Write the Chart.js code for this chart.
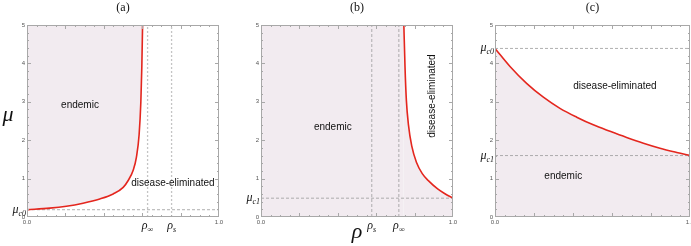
<!DOCTYPE html>
<html>
<head>
<meta charset="utf-8">
<script src="https://cdn.jsdelivr.net/npm/chart.js@4.4.1/dist/chart.umd.min.js"></script>
<style>
  html, body { margin: 0; padding: 0; background: #fff; }
  body { width: 691px; height: 246px; position: relative; overflow: hidden; }
  .panel { position: absolute; top: 0; height: 246px; }
</style>
</head>
<body>
<div class="panel" style="left:0;width:230px"><canvas id="chart-a"></canvas></div>
<div class="panel" style="left:230px;width:230px"><canvas id="chart-b"></canvas></div>
<div class="panel" style="left:460px;width:231px"><canvas id="chart-c"></canvas></div>
<script>
// panel (a): boundary curve, endemic region is left of / above it
const rhoA = [0, 0.118, 0.205, 0.292, 0.379, 0.449, 0.501, 0.527, 0.553, 0.570, 0.584, 0.593, 0.598, 0.602];
const muA  = [0.19, 0.23, 0.28, 0.36, 0.47, 0.60, 0.77, 0.95, 1.22, 1.56, 2.15, 3.0, 3.9, 5.0];
const muC0A = 0.19;
const rhoInfA = 0.628;
const rhoSA = 0.753;

// panel (b): boundary curve, endemic region is left of / below it
const rhoB = [0.744, 0.750, 0.757, 0.768, 0.785, 0.81, 0.84, 0.873, 0.92, 0.96, 1.0];
const muB  = [5.0, 3.92, 3.05, 2.40, 1.85, 1.42, 1.13, 0.94, 0.73, 0.60, 0.49];
const muC1B = 0.49;
const rhoSB = 0.577;
const rhoInfB = 0.718;

// panel (c): boundary curve, endemic region is below it
const rhoC = [0, 0.077, 0.162, 0.248, 0.333, 0.419, 0.504, 0.590, 0.675, 0.761, 0.846, 0.932, 1.0];
const muC  = [4.39, 3.92, 3.48, 3.12, 2.83, 2.60, 2.40, 2.23, 2.07, 1.92, 1.79, 1.68, 1.60];
const muC0C = 4.39;
const muC1C = 1.60;

const yTicks = [0, 1, 2, 3, 4, 5];
const xTickLabels = ['0.0', '1.0'];

const RED = 'rgb(228, 38, 30)';
const FILL = 'rgb(242, 235, 240)';
const DASH = '#9a9a9a';

function pts(xs, ys) {
    return xs.map((x, i) => ({x: x, y: ys[i]}));
}

function curve(data, fill) {
    return {
        data: data, borderColor: RED, borderWidth: 1.6, pointRadius: 0,
        cubicInterpolationMode: 'monotone', fill: fill, backgroundColor: FILL
    };
}

function vline(x, light) {
    return {data: [{x: x, y: 0}, {x: x, y: 5}], pointRadius: 0, fill: false,
        borderColor: light ? '#c4c4c4' : DASH, borderWidth: light ? 1.3 : 0.8,
        borderDash: light ? [2, 2] : [3, 2]};
}

function hline(y) {
    return {data: [{x: 0, y: y}, {x: 1, y: y}], borderColor: DASH, borderWidth: 0.8,
        borderDash: [3, 2], pointRadius: 0, fill: false};
}

// symbol with subscript, e.g. rho_inf, mu_c0
function drawSub(ctx, main, sub, x, y, align, size) {
    const mainFont = 'italic ' + size + 'px "Liberation Serif"';
    const subFont = 'italic ' + Math.round(size * 0.65) + 'px "Liberation Serif"';
    ctx.font = mainFont;
    const w1 = ctx.measureText(main).width;
    ctx.font = subFont;
    const w2 = ctx.measureText(sub).width;
    let x0 = x;
    if (align === 'right') x0 = x - w1 - w2;
    if (align === 'center') x0 = x - (w1 + w2) / 2;
    ctx.textAlign = 'left';
    ctx.textBaseline = 'alphabetic';
    ctx.font = mainFont;
    ctx.fillText(main, x0, y);
    ctx.font = subFont;
    ctx.fillText(sub, x0 + w1, y + size * 0.25);
}

const decor = {
    id: 'decor',
    afterDraw(chart, args, opts) {
        const {ctx, chartArea: a, scales: {x, y}} = chart;
        ctx.save();

        // frame with inward ticks
        ctx.strokeStyle = '#a8a8a8';
        ctx.lineWidth = 1;
        ctx.strokeRect(a.left + 0.5, a.top + 0.5, a.width - 1, a.height - 1);
        ctx.beginPath();
        for (let i = 1; i < 20; i++) {
            const px = Math.round(x.getPixelForValue(i / 20)) + 0.5;
            const len = i % 4 === 0 ? 4 : 2;
            ctx.moveTo(px, a.bottom); ctx.lineTo(px, a.bottom - len);
            ctx.moveTo(px, a.top); ctx.lineTo(px, a.top + len);
        }
        for (let i = 1; i < 25; i++) {
            const py = Math.round(y.getPixelForValue(i / 5)) + 0.5;
            const len = i % 5 === 0 ? 4 : 2;
            ctx.moveTo(a.left, py); ctx.lineTo(a.left + len, py);
            ctx.moveTo(a.right, py); ctx.lineTo(a.right - len, py);
        }
        ctx.stroke();

        ctx.fillStyle = '#111';
        // panel title
        ctx.font = '12px "Liberation Serif"';
        ctx.textAlign = 'center';
        ctx.textBaseline = 'middle';
        ctx.fillText(opts.title, (a.left + a.right) / 2, 8);

        // region labels
        ctx.font = '10px "Liberation Sans"';
        opts.regions.forEach(r => {
            const px = x.getPixelForValue(r.x);
            const py = y.getPixelForValue(r.y);
            ctx.save();
            ctx.translate(px, py);
            if (r.rotate) ctx.rotate(-Math.PI / 2);
            ctx.textAlign = 'center';
            ctx.textBaseline = 'middle';
            ctx.fillText(r.text, 0, 0);
            ctx.restore();
        });

        // special tick labels
        opts.xMarks.forEach(m => {
            drawSub(ctx, m.main, m.sub, x.getPixelForValue(m.value), a.bottom + 12, 'center', 12);
        });
        opts.yMarks.forEach(m => {
            drawSub(ctx, m.main, m.sub, a.left - 1, y.getPixelForValue(m.value) + 3, 'right', 12);
        });

        // axis symbols
        ctx.font = 'italic 22px "Liberation Serif"';
        ctx.textAlign = 'center';
        ctx.textBaseline = 'middle';
        if (opts.yTitle) ctx.fillText(opts.yTitle, 8, (a.top + a.bottom) / 2 - 6);
        if (opts.xTitle) ctx.fillText(opts.xTitle, (a.left + a.right) / 2, 232);
        ctx.restore();
    }
};

function makePanel(id, datasets, yWidth, padRight, decorOpts) {
    return new Chart(document.getElementById(id), {
        type: 'line',
        data: {datasets: datasets},
        options: {
            responsive: true,
            maintainAspectRatio: false,
            animation: false,
            layout: {padding: {left: 0, right: padRight, top: 25, bottom: 0}},
            plugins: {
                legend: {display: false},
                tooltip: {enabled: false},
                filler: {drawTime: 'beforeDatasetsDraw'},
                decor: decorOpts
            },
            scales: {
                x: {
                    type: 'linear', min: 0, max: 1,
                    grid: {display: false, drawTicks: false},
                    border: {display: false},
                    afterBuildTicks: s => { s.ticks = [{value: 0}, {value: 1}]; },
                    ticks: {
                        maxRotation: 0, padding: 2, color: '#555',
                        font: {size: 6, family: 'Liberation Sans'},
                        callback: (v, i) => xTickLabels[i]
                    },
                    afterFit: s => { s.height = 29; s.paddingLeft = 0; s.paddingRight = 0; }
                },
                y: {
                    type: 'linear', min: 0, max: 5,
                    grid: {display: false, drawTicks: false},
                    border: {display: false},
                    afterBuildTicks: s => { s.ticks = yTicks.map(v => ({value: v})); },
                    ticks: {
                        padding: 2, color: '#555',
                        font: {size: 6, family: 'Liberation Sans'}
                    },
                    afterFit: s => { s.width = yWidth; s.paddingTop = 0; s.paddingBottom = 0; }
                }
            }
        },
        plugins: [decor]
    });
}

makePanel('chart-a', [
    curve(pts(rhoA, muA), 'end'),
    vline(rhoInfA, true), vline(rhoSA, true), hline(muC0A)
], 27, 11, {
    title: '(a)',
    yTitle: 'μ',
    regions: [
        {text: 'endemic', x: 0.276, y: 2.92},
        {text: 'disease-eliminated', x: 0.76, y: 0.89}
    ],
    xMarks: [{main: 'ρ', sub: '∞', value: rhoInfA}, {main: 'ρ', sub: 's', value: rhoSA}],
    yMarks: [{main: 'μ', sub: 'c0', value: muC0A}]
});

makePanel('chart-b', [
    curve(pts(rhoB, muB), 'origin'),
    {data: [{x: 0, y: 5}, {x: rhoB[0], y: 5}], borderWidth: 0, pointRadius: 0,
        fill: 'origin', backgroundColor: FILL},
    vline(rhoSB), vline(rhoInfB), hline(muC1B)
], 31, 7, {
    title: '(b)',
    xTitle: 'ρ',
    regions: [
        {text: 'endemic', x: 0.374, y: 2.33},
        {text: 'disease-eliminated', x: 0.89, y: 3.15, rotate: true}
    ],
    xMarks: [{main: 'ρ', sub: 's', value: rhoSB}, {main: 'ρ', sub: '∞', value: rhoInfB}],
    yMarks: [{main: 'μ', sub: 'c1', value: muC1B}]
});

makePanel('chart-c', [
    curve(pts(rhoC, muC), 'origin'),
    hline(muC0C), hline(muC1C)
], 35, 1, {
    title: '(c)',
    regions: [
        {text: 'disease-eliminated', x: 0.615, y: 3.41},
        {text: 'endemic', x: 0.35, y: 1.05}
    ],
    xMarks: [],
    yMarks: [{main: 'μ', sub: 'c0', value: muC0C}, {main: 'μ', sub: 'c1', value: muC1C}]
});
</script>
</body>
</html>
